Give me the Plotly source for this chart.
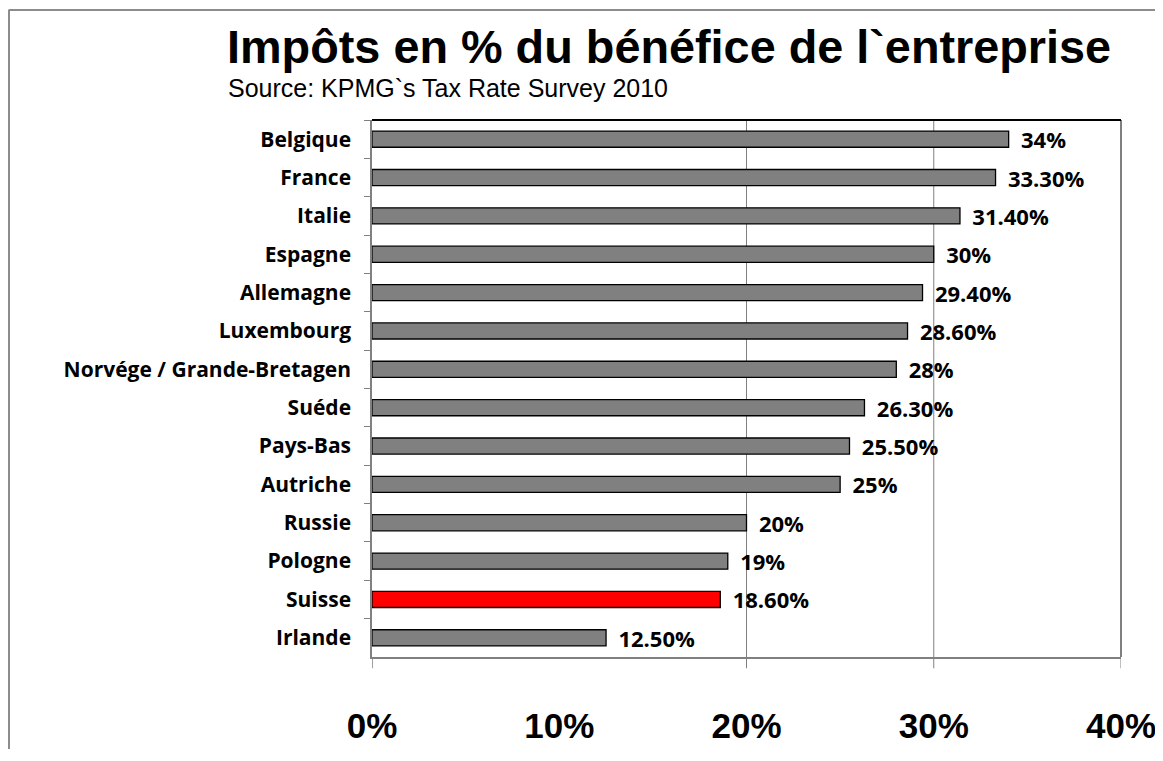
import plotly.graph_objects as go

# ---------------- data ----------------
countries = ["Belgique", "France", "Italie", "Espagne", "Allemagne", "Luxembourg",
             "Norvége / Grande-Bretagen", "Suéde", "Pays-Bas", "Autriche",
             "Russie", "Pologne", "Suisse", "Irlande"]
tax_rates = [0.34, 0.333, 0.314, 0.30, 0.294, 0.286, 0.28, 0.263, 0.255, 0.25,
             0.20, 0.19, 0.186, 0.125]
value_labels = ["34%", "33.30%", "31.40%", "30%", "29.40%", "28.60%", "28%",
                "26.30%", "25.50%", "25%", "20%", "19%", "18.60%", "12.50%"]
highlight = "Suisse"
x_tick_values = [0, 0.1, 0.2, 0.3, 0.4]
x_tick_labels = ["0%", "10%", "20%", "30%", "40%"]
grid_values = [0.2, 0.3]

title_text = "Impôts en % du bénéfice de l`entreprise"
subtitle_text = "Source: KPMG`s Tax Rate Survey 2010"

# ---------------- layout geometry ----------------
# page is 1163x761; html body has an 8px margin, so the figure starts at (8, 8)
OFF = 8
W, H = 1163 - OFF, 761 - 2 * OFF - 4
PLOT_X0, PLOT_X1 = 372 - OFF, 1121 - OFF      # figure pixels
PLOT_Y0, PLOT_Y1 = 120 - OFF, 657 - OFF
L, R, T, B = PLOT_X0, W - PLOT_X1, PLOT_Y0, H - PLOT_Y1
PW, PH = PLOT_X1 - PLOT_X0, PLOT_Y1 - PLOT_Y0


def px_x(page_px):
    return (page_px - OFF - PLOT_X0) / PW


def px_y(page_py):
    return (PLOT_Y1 - (page_py - OFF)) / PH


GRAY = "#808080"
colors = ["#FF0000" if c == highlight else GRAY for c in countries]
LABEL_FONT = "Open Sans"

fig = go.Figure()
fig.add_trace(go.Bar(
    y=countries, x=tax_rates, orientation="h",
    marker=dict(color=colors, line=dict(color="black", width=1.3)),
    width=0.42,
    text=["\u00a0\u2009" + t for t in value_labels],
    textposition="outside",
    constraintext="none",
    cliponaxis=False,
    textfont=dict(family=LABEL_FONT, size=22, color="black", weight="bold"),
    hoverinfo="skip",
))

shapes = []
# vertical gridlines (with tick below the axis)
for g in grid_values:
    shapes.append(dict(type="line", xref="x", yref="paper", x0=g, x1=g,
                       y0=-0.021, y1=1, line=dict(color=GRAY, width=1), layer="below"))
# ticks below the axis at 0 and 40%
shapes.append(dict(type="line", xref="x", yref="paper", x0=0, x1=0,
                   y0=-0.021, y1=0, line=dict(color=GRAY, width=1.5)))
shapes.append(dict(type="line", xref="x", yref="paper", x0=0.4, x1=0.4,
                   y0=-0.021, y1=0, line=dict(color=GRAY, width=1)))
# black top & right border of plot area
shapes.append(dict(type="line", xref="paper", yref="paper", x0=0, x1=1,
                   y0=1, y1=1, line=dict(color="black", width=2)))
shapes.append(dict(type="line", xref="paper", yref="paper", x0=1, x1=1,
                   y0=0, y1=1, line=dict(color="black", width=1)))
# outer frame (top and left)
shapes.append(dict(type="line", xref="paper", yref="paper", x0=px_x(8.5), x1=px_x(1163),
                   y0=px_y(10), y1=px_y(10), line=dict(color="#8c8c8c", width=2)))
shapes.append(dict(type="line", xref="paper", yref="paper", x0=px_x(9), x1=px_x(9),
                   y0=px_y(10), y1=px_y(761), line=dict(color="#8c8c8c", width=2)))

annotations = [
    dict(text=title_text, xref="paper", yref="paper", x=px_x(225), y=px_y(47),
         xanchor="left", yanchor="middle", showarrow=False,
         font=dict(family="Liberation Sans", size=46.8, color="black", weight="bold")),
    dict(text=subtitle_text, xref="paper", yref="paper", x=px_x(226), y=px_y(88),
         xanchor="left", yanchor="middle", showarrow=False,
         font=dict(family="Liberation Sans", size=25, color="black")),
]

fig.update_layout(
    width=W, height=H,
    margin=dict(l=L, r=R, t=T, b=B, pad=0, autoexpand=False),
    paper_bgcolor="white", plot_bgcolor="white",
    showlegend=False,
    shapes=shapes,
    annotations=annotations,
    xaxis=dict(range=[0, 0.4], tickvals=x_tick_values, ticktext=x_tick_labels,
               showgrid=False, zeroline=False, showline=True, linecolor=GRAY,
               linewidth=1.5, ticks="", ticklabelstandoff=37, automargin=False,
               tickfont=dict(family="Liberation Sans", size=35, color="black",
                             weight="bold"),
               fixedrange=True),
    yaxis=dict(categoryorder="array", categoryarray=countries, autorange="reversed",
               showgrid=False, zeroline=False, showline=True, linecolor=GRAY,
               linewidth=1.5, ticks="outside", tickson="boundaries", ticklen=6,
               tickcolor=GRAY, ticklabelstandoff=15, automargin=False,
               tickfont=dict(family=LABEL_FONT, size=21, color="black", weight="bold"),
               fixedrange=True),
    bargap=0.58,
)

fig.write_html("out.html")
